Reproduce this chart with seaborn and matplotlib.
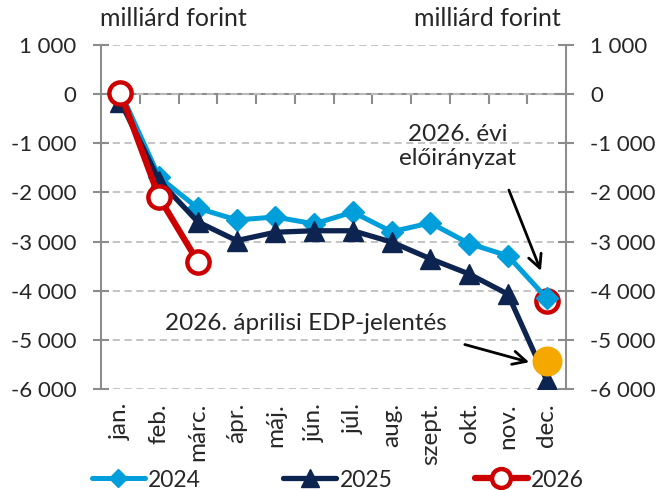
import matplotlib.pyplot as plt
import matplotlib.ticker as mticker
import seaborn as sns

months = ["jan.", "feb.", "márc.", "ápr.", "máj.", "jún.", "júl.", "aug.",
          "szept.", "okt.", "nov.", "dec."]
y2024 = [50, -1690, -2320, -2560, -2500, -2640, -2400, -2800, -2620, -3040, -3290, -4150]
y2025 = [-150, -1760, -2600, -2980, -2810, -2780, -2780, -3010, -3350, -3660, -4070, -5820]
y2026 = [30, -2100, -3410]
plan_2026 = -4200   # 2026. évi előirányzat
edp_2026 = -5430    # 2026. áprilisi EDP-jelentés

c2024 = "#009fdb"
c2025 = "#0d2451"
c2026 = "#cc0000"
corange = "#f5a800"
grey = "#8c8c8c"

sns.set_style("white")
plt.rcParams["font.family"] = ["Lato", "DejaVu Sans"]
plt.rcParams["font.size"] = 17

fig = plt.figure(figsize=(6.61, 4.90), dpi=100)
ax = fig.add_axes([101 / 661, 1 - 389 / 490, 465 / 661, 344 / 490])

x = list(range(len(months)))

sns.lineplot(x=x, y=y2024, ax=ax, color=c2024, linewidth=3.6, marker="D",
             markersize=11, markeredgecolor=c2024, markeredgewidth=1,
             label="2024", zorder=3)
sns.lineplot(x=x, y=y2025, ax=ax, color=c2025, linewidth=3.8, marker="^",
             markersize=15, markeredgecolor=c2025, markeredgewidth=1,
             label="2025", zorder=4)
sns.lineplot(x=x[:len(y2026)], y=y2026, ax=ax, color=c2026, linewidth=4.5,
             marker="o", markersize=16, markerfacecolor="white",
             markeredgecolor=c2026, markeredgewidth=3.2, label="2026", zorder=5)
# december points
ax.plot([x[-1]], [plan_2026], marker="o", markersize=16, markerfacecolor="none",
        markeredgecolor=c2026, markeredgewidth=3.2, linestyle="none", zorder=2.5)
sns.scatterplot(x=[x[-1]], y=[edp_2026], ax=ax, color=corange, s=400,
                edgecolor=corange, legend=False, zorder=6)

ymin, ymax = -6000, 1000
ax.set_xlim(-0.5, len(months) - 0.5)
ax.set_ylim(ymin, ymax)
ax.set_yticks(range(ymin, ymax + 1, 1000))
ax.yaxis.set_major_formatter(
    mticker.FuncFormatter(lambda v, p: f"{int(v):,}".replace(",", " ")))
ax.tick_params(axis="y", left=True, right=True, labelleft=True, labelright=True,
               direction="inout", length=11, width=1.5, color=grey, pad=12,
               labelsize=16)
ax.set_xticks(x)
ax.set_xticklabels(months, rotation=90)
ax.tick_params(axis="x", length=0, pad=10, labelsize=17.5)
ax.set_xlabel("")
ax.set_ylabel("")

ax.yaxis.grid(True, linestyle=(0, (4, 2.5)), color="#bfbfbf", linewidth=1.3)
for s in ["top", "bottom"]:
    ax.spines[s].set_visible(False)
for s in ["left", "right"]:
    ax.spines[s].set_color(grey)
    ax.spines[s].set_linewidth(1.5)

# zero axis line with category separator ticks
sec = ax.secondary_xaxis((0 - ymin) / (ymax - ymin))
sec.set_alignment("bottom")
sec.set_xticks([i + 0.5 for i in x[:-1]], labels=[""] * (len(x) - 1))
sec.tick_params(axis="x", direction="out", length=7, width=1.5, color=grey)
sec.spines["bottom"].set_color(grey)
sec.spines["bottom"].set_linewidth(1.5)

fig.text(100 / 661, 1 - 19 / 490, "milliárd forint", ha="left", va="center", fontsize=18)
fig.text(561 / 661, 1 - 19 / 490, "milliárd forint", ha="right", va="center", fontsize=18)

ax.text(8.71, -1060, "2026. évi\nelőirányzat", ha="center", va="center",
        fontsize=17.5, linespacing=1.15)
ax.annotate("", xy=(10.88, -3650), xytext=(10.0, -1900),
            arrowprops=dict(arrowstyle="->", color="black", lw=2, mutation_scale=24))
ax.text(4.79, -4670, "2026. áprilisi EDP-jelentés", ha="center", va="center",
        fontsize=17.5)
ax.annotate("", xy=(10.62, -5470), xytext=(8.82, -5080),
            arrowprops=dict(arrowstyle="->", color="black", lw=2, mutation_scale=24))

handles, labels = ax.get_legend_handles_labels()
ax.legend_.remove()
fig.legend(handles, labels, loc="center", bbox_to_anchor=(338 / 661, 1 - 480 / 490),
           ncol=3, frameon=False, fontsize=16.5, handlelength=2.3, handletextpad=0.15,
           columnspacing=3.6, markerscale=0.85)

fig.savefig("out.png", dpi=100)
